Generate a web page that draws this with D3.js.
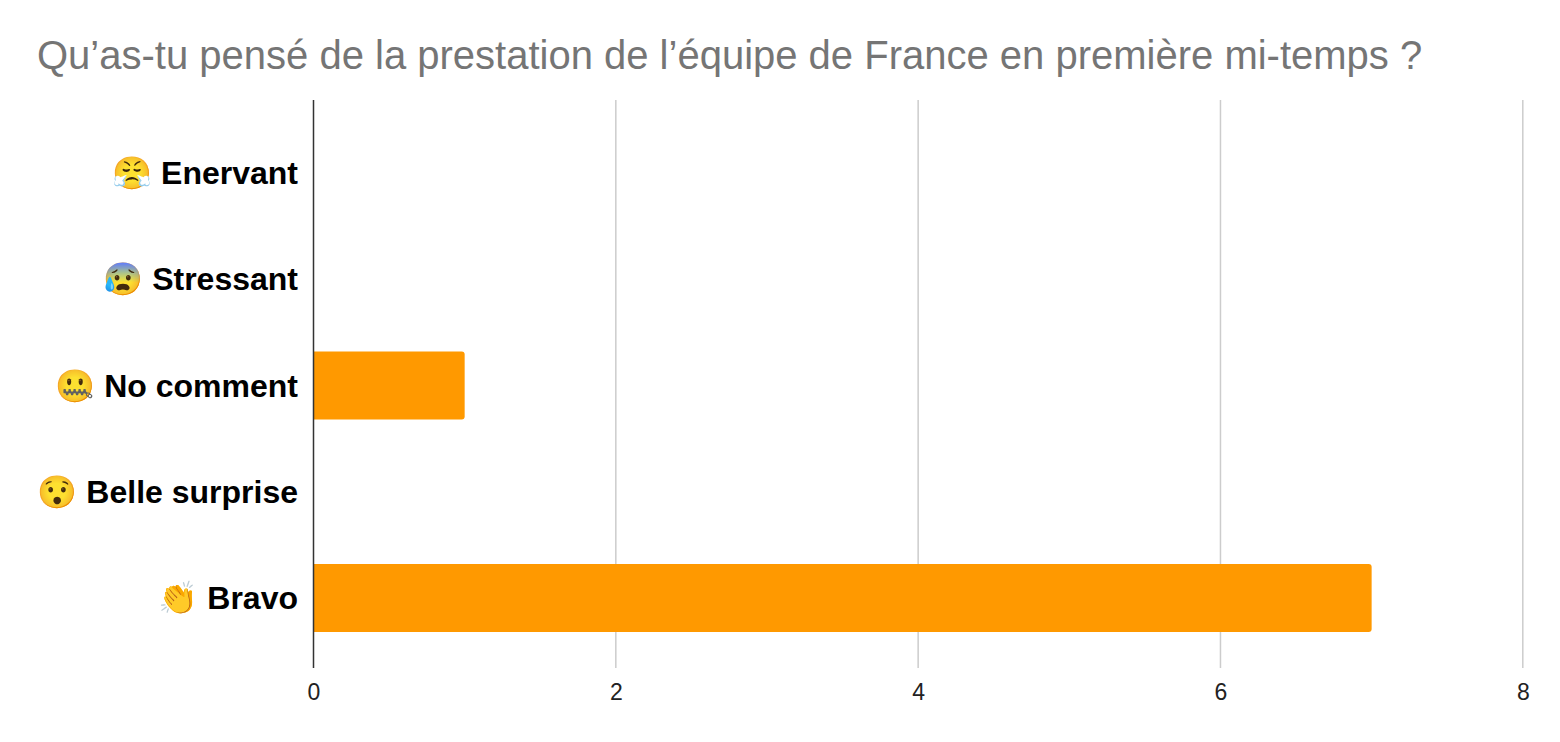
<!DOCTYPE html>
<html><head><meta charset="utf-8">
<script src="https://cdn.jsdelivr.net/npm/d3@7"></script>
<style>html,body{margin:0;padding:0;background:#fff;}</style>
</head><body>
<svg id="chart" width="1560" height="742"></svg>
<script>
const title = "Qu’as-tu pensé de la prestation de l’équipe de France en première mi-temps ?";
const emojis = ["😤", "😰", "🤐", "😯", "👏"];
const categories = ["Enervant", "Stressant", "No comment", "Belle surprise", "Bravo"];
const values = [0, 0, 1, 0, 7];
const xTicks = [0, 2, 4, 6, 8];

(function () {
const svg = d3.select("#chart");
const W = 1560, H = 742;
const x = d3.scaleLinear().domain([0, 8]).range([313.5, 1522.8]);
const y = d3.scaleBand().domain(categories).range([120, 651]).paddingInner(0.36).paddingOuter(0.18);
const plotTop = 100, plotBottom = 668;

svg.append("rect").attr("width", W).attr("height", H).attr("fill", "#fff");

svg.append("text").attr("x", 37).attr("y", 69)
  .attr("font-family", "Liberation Sans, Arial, sans-serif").style("font-size", "40px")
  .attr("fill", "#757575").text(title);

// gridlines
svg.append("g").selectAll("line").data(xTicks.filter(d => d !== 0)).join("line")
  .attr("x1", d => x(d)).attr("x2", d => x(d)).attr("y1", plotTop).attr("y2", plotBottom)
  .attr("stroke", "#cccccc").attr("stroke-width", 1.5);

// bars with rounded right corners
function barPath(x0, x1, y0, h, r) {
  const w = x1 - x0;
  if (w <= 0) return "";
  r = Math.min(r, w, h / 2);
  return `M${x0},${y0}H${x1 - r}Q${x1},${y0} ${x1},${y0 + r}V${y0 + h - r}Q${x1},${y0 + h} ${x1 - r},${y0 + h}H${x0}Z`;
}
svg.append("g").selectAll("path").data(categories.map((c, i) => ({c, v: values[i]}))).join("path")
  .attr("d", d => barPath(x(0), x(d.v), y(d.c), y.bandwidth(), 3))
  .attr("fill", "#ff9900");

// axis line at 0
svg.append("line").attr("x1", x(0)).attr("x2", x(0)).attr("y1", plotTop).attr("y2", plotBottom)
  .attr("stroke", "#333").attr("stroke-width", 1.5);

// x tick labels
const xAxis = d3.axisBottom(x).tickValues(xTicks).tickSize(0).tickPadding(0).tickFormat(d3.format("d"));
const gx = svg.append("g").attr("transform", `translate(0,${plotBottom})`).call(xAxis);
gx.attr("font-size", null).attr("font-family", null);
gx.select(".domain").remove();
gx.selectAll("text").attr("font-family", "Liberation Sans, Arial, sans-serif").style("font-size", "23px")
  .attr("fill", "#222").attr("dy", null).attr("y", 32);

// category labels
const gl = svg.append("g");
categories.forEach((c, i) => {
  const t = gl.append("text").attr("x", 298).attr("y", y(c) + y.bandwidth() / 2 + 11)
    .attr("text-anchor", "end").attr("font-family", "Liberation Sans, Arial, sans-serif")
    .style("font-size", "32px").attr("font-weight", "bold").attr("fill", "#000");
  t.append("tspan").attr("font-family", "Noto Color Emoji, DejaVu Sans, sans-serif").attr("font-weight", "normal").text(emojis[i]);
  t.append("tspan").text(" " + c);
});
})();
</script>
</body></html>
